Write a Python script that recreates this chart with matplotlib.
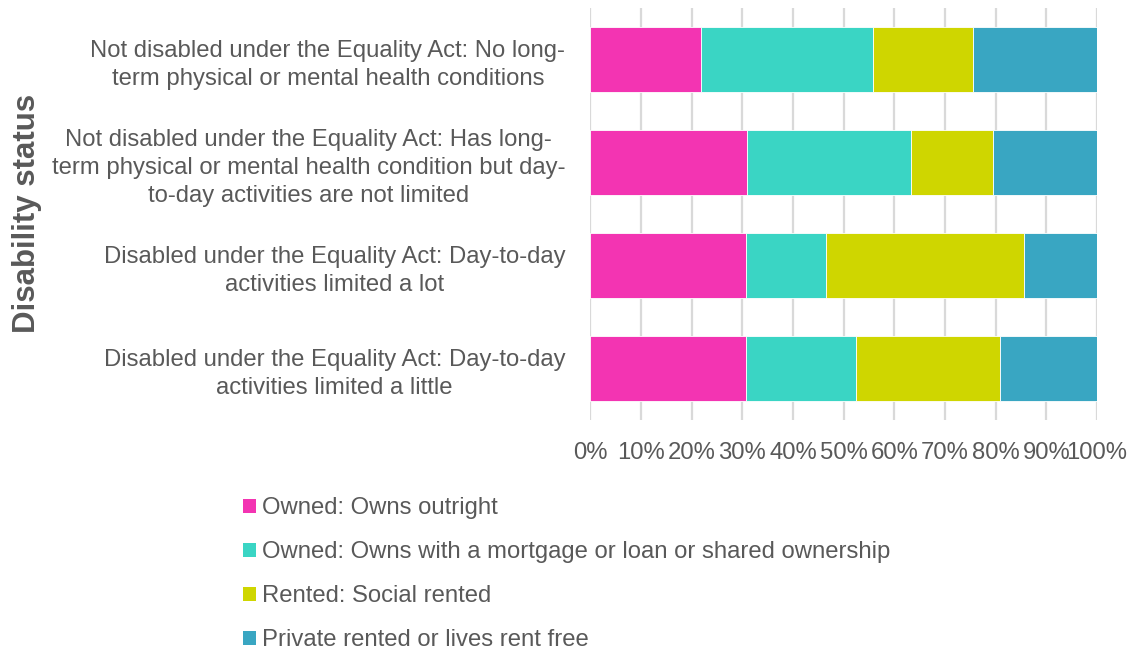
import matplotlib
matplotlib.use('Agg')
import matplotlib.pyplot as plt
from matplotlib.patches import Patch
from matplotlib.ticker import PercentFormatter
import numpy as np

plt.rcParams['font.family'] = ['Liberation Sans', 'DejaVu Sans']

# categories, top to bottom
categories = [
    "Not disabled under the Equality Act: No long-\nterm physical or mental health conditions",
    "Not disabled under the Equality Act: Has long-\nterm physical or mental health condition but day-\nto-day activities are not limited",
    "Disabled under the Equality Act: Day-to-day\nactivities limited a lot",
    "Disabled under the Equality Act: Day-to-day\nactivities limited a little",
]

# tenure shares (%) per category
owns_outright = [21.9, 31.0, 30.7, 30.7]
owns_mortgage = [33.9, 32.3, 15.8, 21.7]
social_rented = [19.8, 16.1, 39.1, 28.5]
private_rented = [24.4, 20.6, 14.4, 19.1]

series_names = [
    "Owned: Owns outright",
    "Owned: Owns with a mortgage or loan or shared ownership",
    "Rented: Social rented",
    "Private rented or lives rent free",
]
colors = ['#f334b2', '#3ad5c4', '#cfd600', '#39a6c2']
text_col = '#595959'
fs = 17.2

fig = plt.figure(figsize=(11.35, 6.5), dpi=100)
ax = fig.add_axes([0.52, 0.354, 0.4465, 0.634])

series = [owns_outright, owns_mortgage, social_rented, private_rented]
y = np.arange(len(categories))
left = np.zeros(len(categories))
for vals, col in zip(series, colors):
    vals = np.array(vals)
    ax.barh(y, vals, left=left, height=0.63, color=col,
            edgecolor='white', linewidth=0.6, zorder=3)
    left += vals

ax.set_xlim(0, 100)
ax.set_ylim(3.5, -0.5)
ax.set_xticks(np.arange(0, 101, 10))
ax.xaxis.set_major_formatter(PercentFormatter(decimals=0))
ax.set_yticks(y)
ax.set_yticklabels(categories, multialignment='center', linespacing=1.37)
ax.tick_params(axis='both', length=0, labelsize=fs, colors=text_col)
ax.tick_params(axis='x', pad=16)
ax.tick_params(axis='y', pad=18)
ax.grid(axis='x', color='#d9d9d9', linewidth=1.6, zorder=0)
for s in ax.spines.values():
    s.set_visible(False)

fig.text(0.024, 0.6715, "Disability status", rotation=90, fontsize=22.5,
         fontweight='bold', color=text_col, ha='center', va='center')

handles = [Patch(facecolor=c, edgecolor='none') for c in colors]
fig.legend(handles, series_names, loc='upper left',
           bbox_to_anchor=(0.214, 0.235), frameon=False,
           fontsize=fs, labelcolor=text_col, handlelength=0.55,
           handleheight=0.55, handletextpad=0.25, labelspacing=0.92,
           borderpad=0, borderaxespad=0)

fig.savefig('out.png', dpi=100)
